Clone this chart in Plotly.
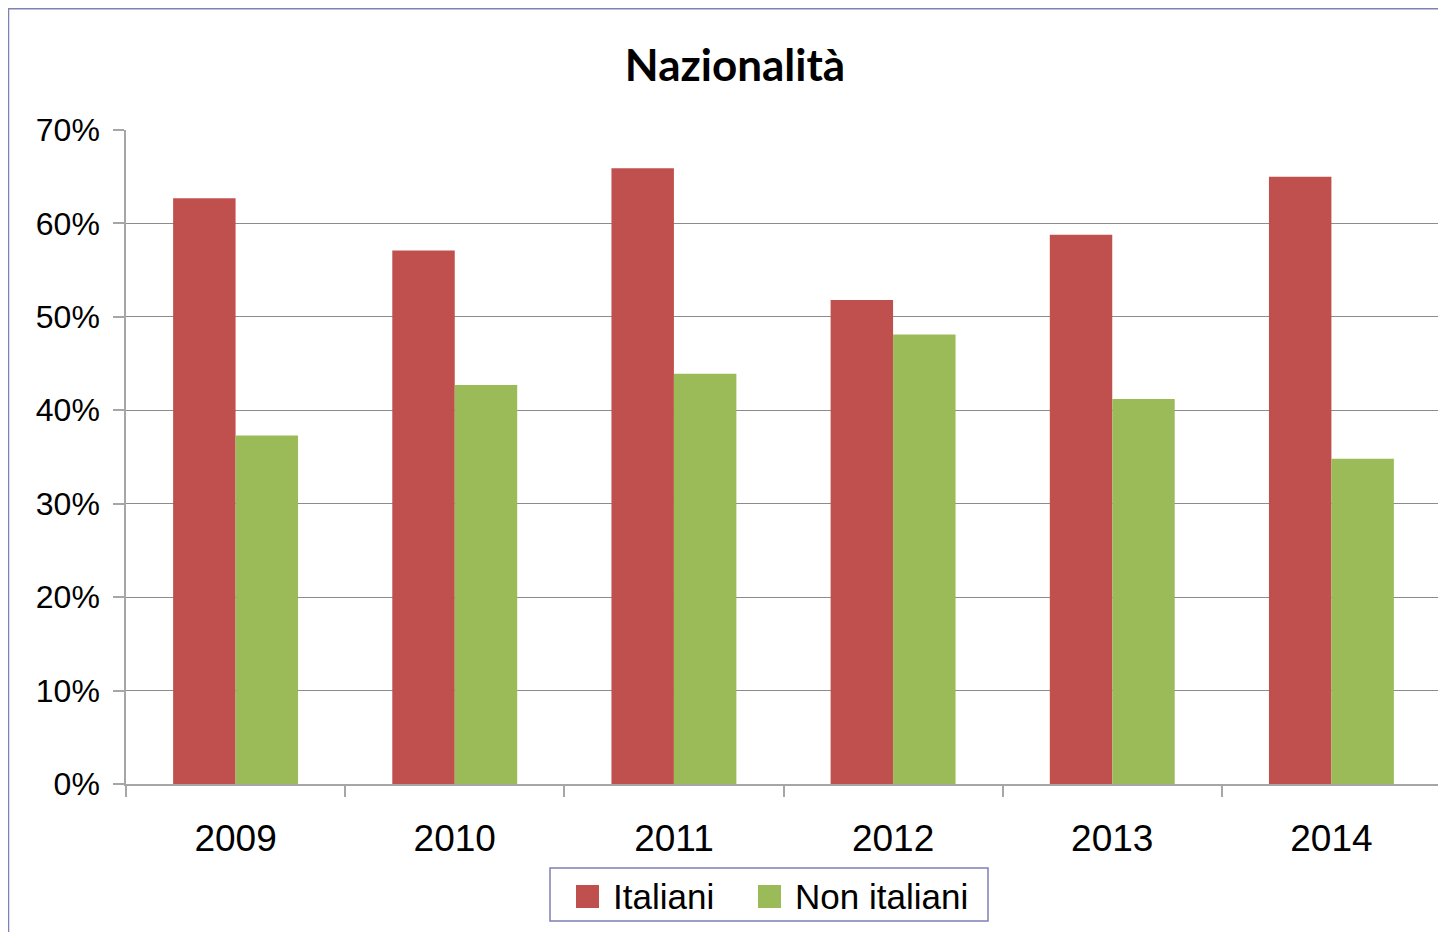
import plotly.graph_objects as go

years = ["2009", "2010", "2011", "2012", "2013", "2014"]
italiani = [0.627, 0.571, 0.659, 0.518, 0.588, 0.650]
non_italiani = [0.373, 0.427, 0.439, 0.481, 0.412, 0.348]
y_ticks = [0, 0.1, 0.2, 0.3, 0.4, 0.5, 0.6, 0.7]
y_labels = ["0%", "10%", "20%", "30%", "40%", "50%", "60%", "70%"]
series_names = ["Italiani", "Non italiani"]
series_colors = ["#C0504D", "#9BBB59"]

fig = go.Figure()
fig.add_trace(go.Bar(x=years, y=italiani, name=series_names[0], showlegend=False,
                     marker=dict(color=series_colors[0], line=dict(width=0))))
fig.add_trace(go.Bar(x=years, y=non_italiani, name=series_names[1], showlegend=False,
                     marker=dict(color=series_colors[1], line=dict(width=0))))

# page has an 8px body margin; figure coordinates = page - 8
W, H = 1438, 924
l, r, t, b = 118, 5, 122, 148
pw, ph = W - l - r, H - t - b

def px_x(p):
    return (p - l) / pw

def px_y(p):
    return (H - b - p) / ph

shapes = [
    dict(type="rect", xref="paper", yref="paper", x0=px_x(0.5), x1=px_x(1500), y0=px_y(0.75), y1=px_y(1000),
         line=dict(color="#8080B4", width=1.5), fillcolor="rgba(0,0,0,0)", layer="below"),
    # legend box
    dict(type="rect", xref="paper", yref="paper", x0=px_x(542), x1=px_x(980), y0=px_y(860), y1=px_y(913),
         line=dict(color="#7F7FB4", width=1.5), fillcolor="white"),
]
annotations = []
sq_left = [568, 750]
txt_left = [603, 785]
for name, col, sx, tx in zip(series_names, series_colors, sq_left, txt_left):
    shapes.append(dict(type="rect", xref="paper", yref="paper", x0=px_x(sx), x1=px_x(sx + 23),
                       y0=px_y(877), y1=px_y(900), line=dict(width=0), fillcolor=col))
    annotations.append(dict(text=name, xref="paper", yref="paper", x=px_x(tx), y=px_y(888),
                            xanchor="left", yanchor="middle", showarrow=False,
                            font=dict(family="Liberation Sans, Arial", size=35, color="black")))

fig.update_layout(
    width=W, height=H,
    margin=dict(l=l, r=r, t=t, b=b),
    paper_bgcolor="white", plot_bgcolor="white",
    barmode="group", bargap=0.43, bargroupgap=0,
    title=dict(text="<b>Nazionalità</b>", xref="container", x=727 / W, xanchor="center",
               yref="container", y=1 - 58 / H, yanchor="middle",
               font=dict(family="Lato", size=44, color="black")),
    font=dict(family="Liberation Sans, Arial", color="black"),
    showlegend=False,
    shapes=shapes,
    annotations=annotations,
)
fig.update_xaxes(showgrid=False, showline=True, linecolor="#A6A6A6", linewidth=1.5,
                 ticks="outside", tickson="boundaries", ticklen=11, tickcolor="#A6A6A6", tickwidth=1.5,
                 tickfont=dict(size=37, color="black"), ticklabelstandoff=21)
fig.update_yaxes(range=[0, 0.7], tickvals=y_ticks, ticktext=y_labels, showgrid=True, gridcolor="#8C8C8C", gridwidth=1,
                 showline=True, linecolor="#A6A6A6", linewidth=1.5, ticks="outside", ticklen=11,
                 tickcolor="#A6A6A6", tickwidth=1.5, tickfont=dict(size=32, color="black"), ticklabelstandoff=7,
                 zeroline=False)

fig.write_html("out.html")
